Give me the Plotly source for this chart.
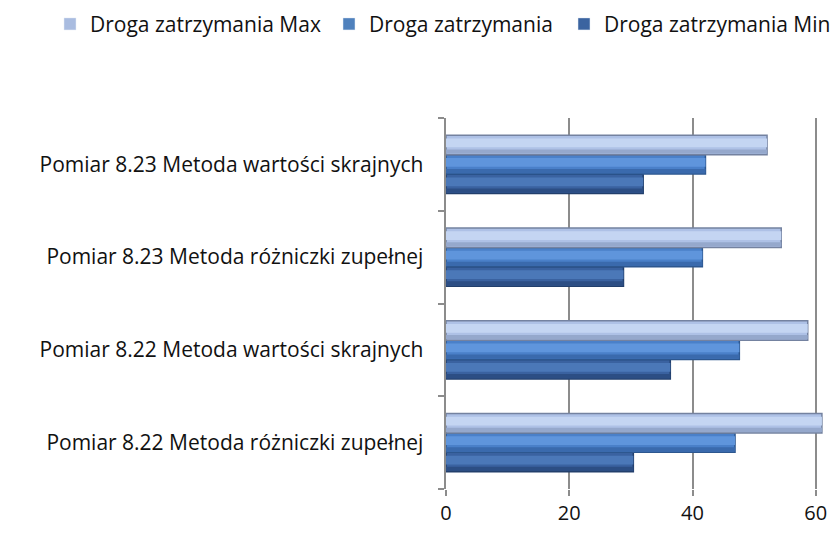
import plotly.graph_objects as go

categories = [
    "Pomiar 8.22 Metoda różniczki zupełnej",
    "Pomiar 8.22 Metoda wartości skrajnych",
    "Pomiar 8.23 Metoda różniczki zupełnej",
    "Pomiar 8.23 Metoda wartości skrajnych",
]
droga_min = [30.4, 36.4, 28.8, 32.0]
droga = [46.9, 47.6, 41.6, 42.1]
droga_max = [61.0, 58.7, 54.4, 52.1]
x_ticks = [0, 20, 40, 60]

# name, values, body, highlight, shadow, edge, legend swatch, legend id
series = [
    ("Droga zatrzymania Min", droga_min, "#3A62A0", "#4B78B8", "#2C4E84", "#223F6C", "#3B64A0", "legend3"),
    ("Droga zatrzymania", droga, "#4A80C9", "#5F95DC", "#3A6AAD", "#2D578F", "#4F81BD", "legend2"),
    ("Droga zatrzymania Max", droga_max, "#AEC1E6", "#C4D5F2", "#95A8CC", "#7482A0", "#A9BCE0", "legend"),
]

bar_w = 0.21
fig = go.Figure()
for i, (name, vals, body, light, shade, edge, legend_col, leg) in enumerate(series):
    off = (i - 1.5) * bar_w
    fig.add_trace(go.Bar(
        y=categories, x=vals, orientation="h", name=name,
        width=bar_w, offset=off,
        marker=dict(color=body, line=dict(color=edge, width=1.5)),
        showlegend=False, hoverinfo="x",
    ))
    # darker band along the underside of the cylinder
    fig.add_trace(go.Bar(
        y=categories, x=vals, orientation="h", name=name,
        width=bar_w * 0.22, offset=off + bar_w * 0.04,
        marker=dict(color=shade, line=dict(width=0)),
        showlegend=False, hoverinfo="skip",
    ))
    # soft highlight along the upper half of the cylinder
    fig.add_trace(go.Bar(
        y=categories, x=vals, orientation="h", name=name,
        width=bar_w * 0.45, offset=off + bar_w * 0.38,
        marker=dict(color=light, line=dict(width=0)),
        showlegend=False, hoverinfo="skip",
    ))
    # legend swatch
    fig.add_trace(go.Bar(
        y=[None], x=[None], orientation="h", name=name,
        marker=dict(color=legend_col), showlegend=True, legend=leg,
    ))

legend_common = dict(
    orientation="h", xref="container", yref="container", xanchor="left",
    y=0.993, yanchor="top", font=dict(size=21), itemwidth=30,
    bgcolor="rgba(0,0,0,0)",
)

fig.update_layout(
    width=835, height=534,
    barmode="overlay",
    plot_bgcolor="white", paper_bgcolor="white",
    margin=dict(l=446, r=8, t=118, b=37),
    font=dict(family="Open Sans", size=21, color="#111111"),
    legend=dict(x=50 / 835, **legend_common),
    legend2=dict(x=329 / 835, **legend_common),
    legend3=dict(x=564 / 835, **legend_common),
    showlegend=True,
)
fig.update_xaxes(
    range=[0, 61.5], tickvals=x_ticks, showgrid=True, gridcolor="#8C8C8C",
    gridwidth=2, zeroline=False, showline=False, ticks="outside",
    tickcolor="#8C8C8C", ticklen=6, tickwidth=2, tickfont=dict(size=20),
)
fig.update_yaxes(
    categoryorder="array", categoryarray=categories,
    showline=True, linecolor="#8C8C8C", linewidth=2,
    ticks="outside", tickson="boundaries", tickcolor="#8C8C8C",
    ticklen=6, tickwidth=2, showgrid=False, ticksuffix="   ",
)

fig.write_html("out.html")
